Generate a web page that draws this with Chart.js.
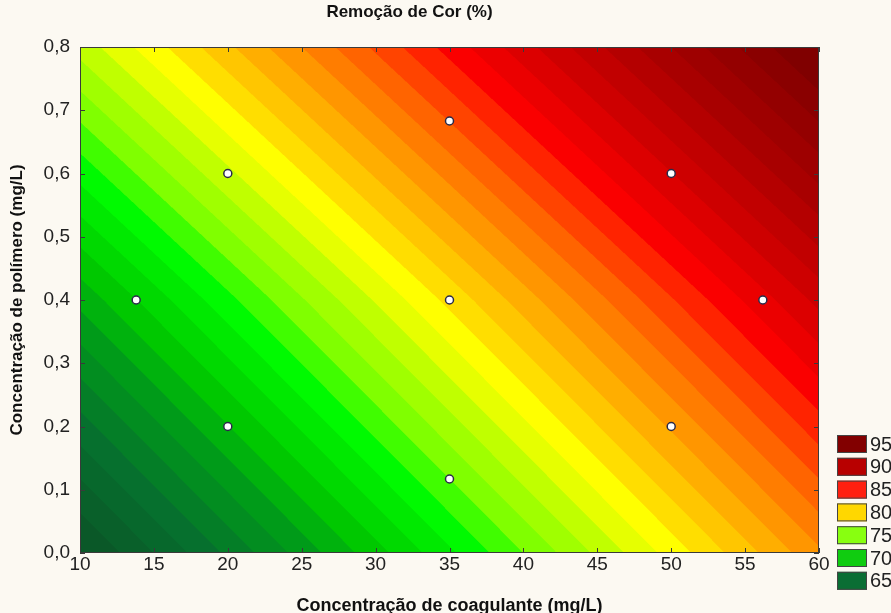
<!DOCTYPE html>
<html>
<head>
<meta charset="utf-8">
<script src="https://cdn.jsdelivr.net/npm/chart.js@4.4.1/dist/chart.umd.min.js"></script>
<style>
  html, body { margin: 0; padding: 0; background: #fcf9f2; }
  #wrap { width: 891px; height: 613px; }
</style>
</head>
<body>
<div id="wrap"><canvas id="chart" width="891" height="613"></canvas></div>
<script>
// design points (experimental runs)
const coagulante = [13.8, 20, 20, 35, 35, 35, 50, 50, 56.2];
const polimero = [0.4, 0.2, 0.6, 0.117, 0.4, 0.683, 0.2, 0.6, 0.4];

// response surface at a few nodes
const xGrid = [10, 35, 60];
const yGrid = [0, 0.4, 0.8];
const zGrid = [
  [61.8, 72.8, 83.8], // y = 0.0
  [69.3, 80.3, 91.3], // y = 0.4
  [77.4, 88.4, 99.4], // y = 0.8
];

// legend
const legendLevels = [95, 90, 85, 80, 75, 70, 65];
const legendColors = ["#820000", "#b80000", "#ff2010", "#ffd700", "#88ff10", "#10cc10", "#0a6e34"];

// band colour stops: level, r, g, b
const colorStops = [
  [62, 10, 88, 40],
  [65, 6, 112, 46],
  [68, 0, 155, 25],
  [70, 0, 200, 0],
  [73, 0, 250, 0],
  [75, 128, 255, 0],
  [77, 192, 255, 0],
  [78, 230, 255, 0],
  [79, 255, 255, 0],
  [80, 255, 222, 0],
  [81, 255, 198, 0],
  [83, 255, 150, 0],
  [85, 255, 100, 0],
  [87, 255, 35, 0],
  [88, 250, 0, 0],
  [91, 205, 0, 0],
  [94, 168, 0, 0],
  [98, 128, 0, 0],
];

const FONT = "'Liberation Sans', Arial, sans-serif";
const comma = (v) => Number(v).toFixed(1).replace(".", ",");

function surface(x, y) {
  let i = x < xGrid[1] ? 0 : 1;
  let j = y < yGrid[1] ? 0 : 1;
  const tx = (x - xGrid[i]) / (xGrid[i + 1] - xGrid[i]);
  const ty = (y - yGrid[j]) / (yGrid[j + 1] - yGrid[j]);
  const a = zGrid[j][i] * (1 - tx) + zGrid[j][i + 1] * tx;
  const b = zGrid[j + 1][i] * (1 - tx) + zGrid[j + 1][i + 1] * tx;
  return a * (1 - ty) + b * ty;
}

function bandColor(z) {
  const lv = Math.floor(z);
  if (lv <= colorStops[0][0]) return colorStops[0].slice(1);
  for (let k = 1; k < colorStops.length; k++) {
    const s0 = colorStops[k - 1], s1 = colorStops[k];
    if (lv <= s1[0]) {
      const t = (lv - s0[0]) / (s1[0] - s0[0]);
      return [1, 2, 3].map((c) => Math.round(s0[c] + (s1[c] - s0[c]) * t));
    }
  }
  return colorStops[colorStops.length - 1].slice(1);
}

const contourPlugin = {
  id: "contour",
  beforeDraw(chart) {
    const ctx = chart.ctx;
    ctx.save();
    ctx.fillStyle = "#fcf9f2";
    ctx.fillRect(0, 0, chart.width, chart.height);
    ctx.restore();
  },
  beforeDatasetsDraw(chart) {
    const { ctx, chartArea: a, scales } = chart;
    const xs = scales.x, ys = scales.y;
    const left = Math.round(a.left), top = Math.round(a.top);
    const w = Math.round(a.right) - left, h = Math.round(a.bottom) - top;
    const img = ctx.createImageData(w, h);
    const offs = [0.25, 0.75];
    for (let py = 0; py < h; py++) {
      for (let px = 0; px < w; px++) {
        let r = 0, g = 0, b = 0;
        for (const oy of offs) {
          const yv = ys.getValueForPixel(top + py + oy);
          for (const ox of offs) {
            const xv = xs.getValueForPixel(left + px + ox);
            const c = bandColor(surface(xv, yv));
            r += c[0]; g += c[1]; b += c[2];
          }
        }
        const p = (py * w + px) * 4;
        img.data[p] = r / 4;
        img.data[p + 1] = g / 4;
        img.data[p + 2] = b / 4;
        img.data[p + 3] = 255;
      }
    }
    ctx.putImageData(img, left, top);

    // frame and inward ticks
    ctx.save();
    ctx.strokeStyle = "#3a3a3a";
    ctx.lineWidth = 1;
    ctx.strokeRect(left + 0.5, top + 0.5, w - 1, h - 1);
    ctx.beginPath();
    xs.ticks.forEach((t) => {
      const px = Math.round(xs.getPixelForValue(t.value)) + 0.5;
      ctx.moveTo(px, top); ctx.lineTo(px, top + 5);
      ctx.moveTo(px, top + h); ctx.lineTo(px, top + h - 5);
    });
    ys.ticks.forEach((t) => {
      const py = Math.round(ys.getPixelForValue(t.value)) + 0.5;
      ctx.moveTo(left, py); ctx.lineTo(left + 5, py);
      ctx.moveTo(left + w, py); ctx.lineTo(left + w - 5, py);
    });
    ctx.stroke();
    ctx.restore();
  },
  afterDraw(chart) {
    const ctx = chart.ctx;
    ctx.save();
    ctx.font = "20px " + FONT;
    ctx.textBaseline = "middle";
    legendLevels.forEach((lv, i) => {
      const y0 = 435 + i * 22.8;
      ctx.fillStyle = legendColors[i];
      ctx.fillRect(837, y0, 30, 18);
      ctx.strokeStyle = "#444";
      ctx.strokeRect(837.5, y0 + 0.5, 29, 17);
      ctx.fillStyle = "#222";
      ctx.fillText(String(lv), 870, y0 + 10);
    });
    ctx.restore();
  },
};

new Chart(document.getElementById("chart"), {
  type: "scatter",
  data: {
    datasets: [
      {
        label: "Ensaios",
        data: coagulante.map((x, i) => ({ x: x, y: polimero[i] })),
        pointStyle: "circle",
        pointRadius: 4,
        pointBackgroundColor: "#ffffff",
        pointBorderColor: "#2a2a48",
        pointBorderWidth: 1.5,
      },
    ],
  },
  options: {
    responsive: false,
    animation: false,
    layout: { padding: { left: 0, right: 72, top: 0, bottom: 0 } },
    plugins: {
      legend: { display: false },
      tooltip: { enabled: false },
      title: {
        display: true,
        text: "Remoção de Cor (%)",
        color: "#111",
        font: { family: FONT, size: 17, weight: "bold", lineHeight: 1.2 },
        padding: { top: 2, bottom: 24.6 },
      },
    },
    scales: {
      x: {
        type: "linear",
        min: 10,
        max: 60,
        grid: { display: false, drawTicks: false, tickLength: 0 },
        border: { display: false },
        ticks: { stepSize: 5, padding: 0, color: "#222", font: { family: FONT, size: 19 } },
        title: {
          display: true,
          text: "Concentração de coagulante (mg/L)",
          color: "#111",
          font: { family: FONT, size: 18, weight: "bold", lineHeight: 1.2 },
          padding: { top: 0, bottom: -4 },
        },
        afterFit(scale) { scale.height = 60; },
      },
      y: {
        type: "linear",
        min: 0,
        max: 0.8,
        grid: { display: false, drawTicks: false, tickLength: 0 },
        border: { display: false },
        ticks: {
          stepSize: 0.1,
          padding: 10,
          color: "#222",
          font: { family: FONT, size: 19 },
          callback: (v) => comma(v),
        },
        title: {
          display: true,
          text: "Concentração de polímero (mg/L)",
          color: "#111",
          font: { family: FONT, size: 17, weight: "bold", lineHeight: 1.2 },
          padding: { top: 7, bottom: 0 },
        },
        afterFit(scale) { scale.width = 80; },
      },
    },
  },
  plugins: [contourPlugin],
});
</script>
</body>
</html>
